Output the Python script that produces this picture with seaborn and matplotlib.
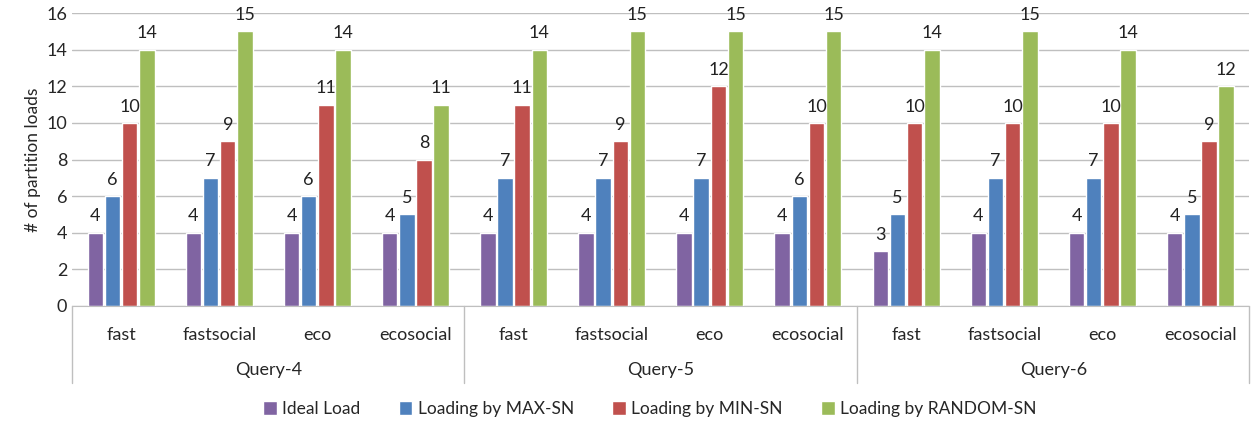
import pandas as pd
import matplotlib.pyplot as plt
import seaborn as sns

# Dados do gráfico
queries = ['Query-4', 'Query-5', 'Query-6']
strategies = ['fast', 'fastsocial', 'eco', 'ecosocial']
series = ['Ideal Load', 'Loading by MAX-SN', 'Loading by MIN-SN', 'Loading by RANDOM-SN']

ideal = [4, 4, 4, 4, 4, 4, 4, 4, 3, 4, 4, 4]
max_sn = [6, 7, 6, 5, 7, 7, 7, 6, 5, 7, 7, 5]
min_sn = [10, 9, 11, 8, 11, 9, 12, 10, 10, 10, 10, 9]
random_sn = [14, 15, 14, 11, 14, 15, 15, 15, 14, 15, 14, 12]

colors = ['#8064A2', '#4F81BD', '#C0504D', '#9BBB59']

# Montar tabela longa
keys = [q + '|' + s for q in queries for s in strategies]
rows = []
for nome, vals in zip(series, [ideal, max_sn, min_sn, random_sn]):
    for k, v in zip(keys, vals):
        rows.append({'cat': k, 'serie': nome, 'valor': v})
df = pd.DataFrame(rows)

sns.set_style('white')
plt.rcParams['font.family'] = ['Lato', 'DejaVu Sans']

fig = plt.figure(figsize=(12.52, 4.26), dpi=100)
ax = fig.add_axes([0.0575, 0.282, 0.9405, 0.687])

sns.barplot(data=df, x='cat', y='valor', hue='serie', order=keys,
            hue_order=series, palette=colors, width=0.7, gap=0.1,
            saturation=1, ax=ax, legend=True)

for c in ax.containers:
    ax.bar_label(c, padding=6, fontsize=13, color='#222222')

ax.set_ylim(0, 16)
ax.set_yticks(range(0, 17, 2))
ax.set_xlim(-0.5, 11.5)
ax.yaxis.grid(True, color='#BFBFBF', linewidth=1)
ax.set_axisbelow(True)
for s in ['top', 'right', 'left']:
    ax.spines[s].set_visible(False)
ax.spines['bottom'].set_color('#BFBFBF')
ax.set_ylabel('# of partition loads', fontsize=12.5)
ax.set_xlabel('')
ax.set_xticks(range(12))
ax.set_xticklabels(strategies * 3, fontsize=13)
ax.tick_params(axis='x', length=0, pad=15)
ax.tick_params(axis='y', length=0, labelsize=13)

# Rótulos das queries e divisórias
for i, q in enumerate(queries):
    ax.text(i * 4 + 1.5, -0.22, q, transform=ax.get_xaxis_transform(),
            ha='center', va='center', fontsize=13)
for x in [-0.5, 3.5, 7.5, 11.5]:
    ax.axvline(x, ymin=-0.265, ymax=0, color='#BFBFBF', linewidth=1, clip_on=False)

h, l = ax.get_legend_handles_labels()
ax.legend(h, l, loc='center', bbox_to_anchor=(0.519, 0.04),
          bbox_transform=fig.transFigure, ncol=4, frameon=False,
          fontsize=12.5, handlelength=0.8, handleheight=0.8,
          handletextpad=0.3, columnspacing=2.2)

plt.savefig('out.png', dpi=100)
